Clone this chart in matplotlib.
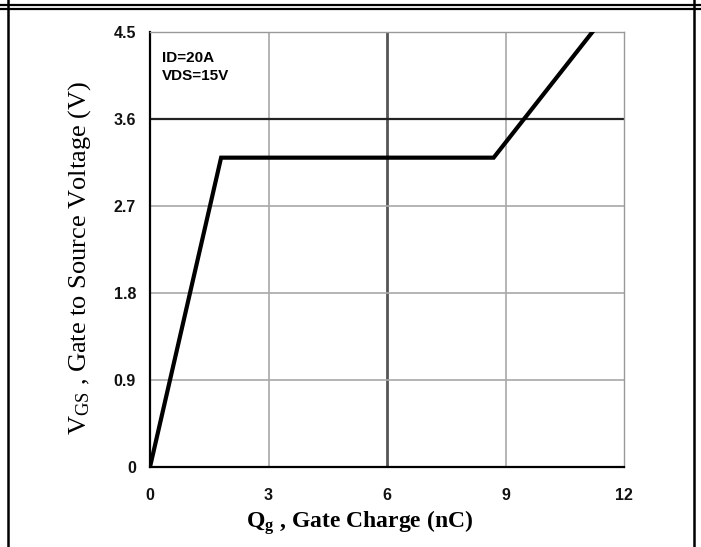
import matplotlib
matplotlib.use("Agg")
import matplotlib.pyplot as plt
from matplotlib.lines import Line2D

plt.rcParams['mathtext.fontset'] = 'custom'
plt.rcParams['mathtext.rm'] = 'Liberation Serif'
plt.rcParams['mathtext.bf'] = 'Liberation Serif:bold'
plt.rcParams['mathtext.it'] = 'Liberation Serif:italic'

# Data
qg = [0, 1.8, 8.7, 11.2]
vgs = [0, 3.2, 3.2, 4.5]
x_ticks = [0, 3, 6, 9, 12]
y_ticks = [0, 0.9, 1.8, 2.7, 3.6, 4.5]
x_tick_labels = ["0", "3", "6", "9", "12"]
y_tick_labels = ["0", "0.9", "1.8", "2.7", "3.6", "4.5"]
annotation = "ID=20A\nVDS=15V"

W, H = 701, 547
fig = plt.figure(figsize=(W / 100, H / 100), dpi=100)
ax = fig.add_axes([150 / W, (H - 467) / H, 474 / W, 435 / H])

ax.set_xlim(0, 12)
ax.set_ylim(0, 4.5)

# grid
light = "#a8a8a8"
dark = "#555555"
for xv in [3, 9]:
    ax.axvline(xv, color=light, lw=1.2, zorder=1)
ax.axvline(6, color=dark, lw=2.0, zorder=1)
for yv in [0.9, 1.8, 2.7]:
    ax.axhline(yv, color=light, lw=1.2, zorder=1)
ax.axhline(3.6, color="#222222", lw=1.6, zorder=1)

ax.plot(qg, vgs, color="black", lw=3.0, zorder=3, solid_joinstyle='miter', clip_on=True)

ax.set_xticks(x_ticks)
ax.set_xticklabels(x_tick_labels)
ax.set_yticks(y_ticks)
ax.set_yticklabels(y_tick_labels)
ax.tick_params(axis='x', length=0, pad=15)
ax.tick_params(axis='y', length=0, pad=10)
for lab in ax.get_xticklabels() + ax.get_yticklabels():
    lab.set_fontfamily("Liberation Sans")
    lab.set_fontweight("bold")
    lab.set_fontsize(11.5)
    lab.set_color("#111111")

for s in ["left", "bottom"]:
    ax.spines[s].set_color("black")
    ax.spines[s].set_linewidth(1.6)
for s in ["top", "right"]:
    ax.spines[s].set_color("#999999")
    ax.spines[s].set_linewidth(1.0)

ax.text(0.3, 4.3, annotation, fontfamily="Liberation Sans", fontweight="bold",
        fontsize=11, va="top", ha="left", linespacing=1.3)

ax.set_xlabel(r"$\mathbf{Q_g}$ , Gate Charge (nC)", fontfamily="Liberation Serif",
              fontweight="bold", fontsize=17)
ax.xaxis.set_label_coords((360 - 150) / 474, (467 - 523) / 435)
ax.xaxis.label.set_va("center")
ax.set_ylabel(r"$\mathrm{V_{GS}}$ , Gate to Source Voltage (V)", fontfamily="Liberation Serif",
              fontsize=19)
ax.yaxis.set_label_coords((80 - 150) / 474, 0.48)
ax.yaxis.label.set_va("center")

# frame lines
def px_line(x0, y0, x1, y1, lw):
    fig.add_artist(Line2D([x0 / W, x1 / W], [1 - y0 / H, 1 - y1 / H],
                          color="black", lw=lw, transform=fig.transFigure))

px_line(0, 5, W, 5, 1.6)
px_line(0, 8.5, W, 8.5, 1.6)
px_line(8, 0, 8, H, 1.8)
px_line(694, 0, 694, H, 1.8)

fig.savefig("out.png", dpi=100)
